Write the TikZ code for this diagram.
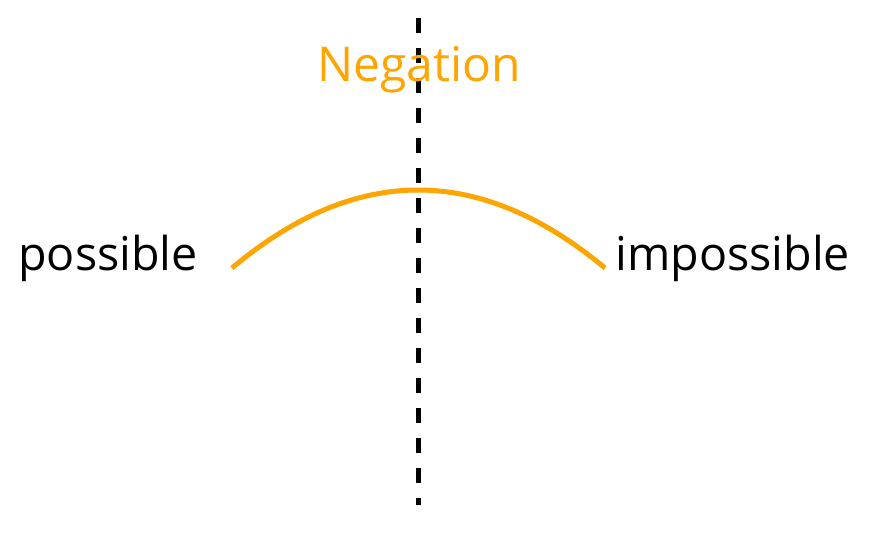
\documentclass[tikz,border=0pt]{standalone}
\usepackage{fontspec}
\setmainfont{Open Sans}
\definecolor{negorange}{HTML}{FFA500}
\begin{document}
\begin{tikzpicture}[x=0.5pt,y=-0.5pt,
  label/.style={inner sep=0pt,font=\fontsize{23.3}{28}\selectfont},
  axis/.style={line width=2.5pt,dash pattern=on 7.5pt off 7.5pt},
  arcline/.style={line width=2.5pt,negorange}]
\useasboundingbox[fill=white] (0,0) rectangle (870,535);
\coordinate (top) at (418,18);
\coordinate (bot) at (418,505);
\draw[axis] (top) -- (bot);
\node[label,text=negorange,anchor=base,font=\fontsize{24}{28}\selectfont] (neg) at (419,82) {Negation};
\node[label,anchor=base west] (pos) at (18,270) {possible};
\node[label,anchor=base west] (imp) at (615,270) {impossible};
\coordinate (a) at (232,268);
\coordinate (b) at (605,268);
\draw[arcline] (a) .. controls (356,164) and (480,164) .. (b);
\end{tikzpicture}
\end{document}
